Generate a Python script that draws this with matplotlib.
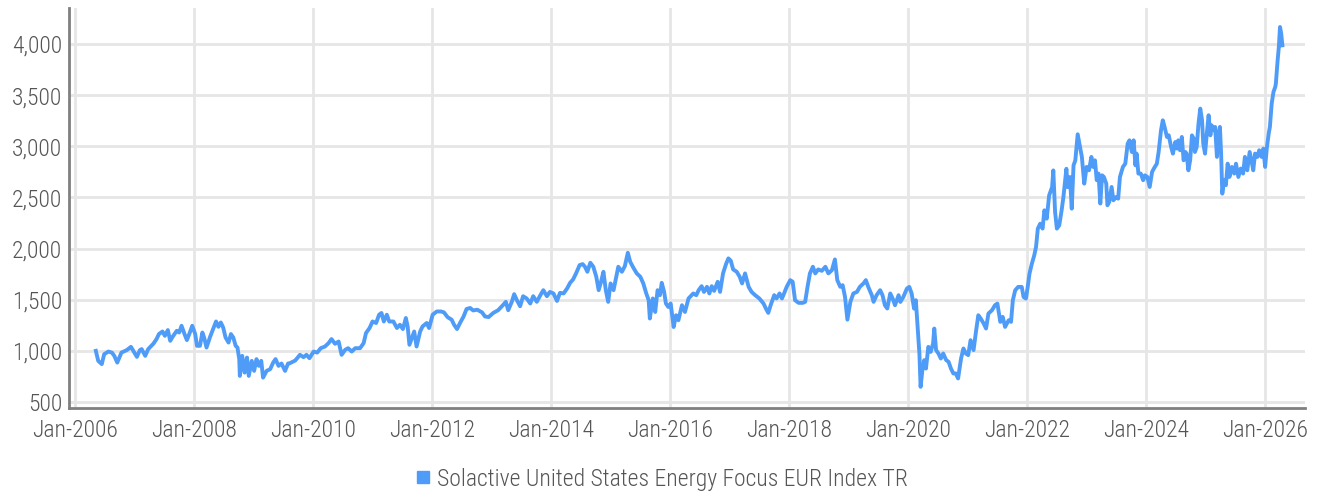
import matplotlib
matplotlib.use("Agg")
import matplotlib.pyplot as plt
from matplotlib.lines import Line2D
from matplotlib.ticker import FuncFormatter

plt.rcParams['font.family'] = ['Roboto Condensed', 'Roboto', 'DejaVu Sans']
plt.rcParams['font.weight'] = 'light'

series_name = "Solactive United States Energy Focus EUR Index TR"

years = [
    2006.35, 2006.39, 2006.45, 2006.49, 2006.56, 2006.62, 2006.66, 2006.71, 2006.78, 2006.87,
    2006.94, 2006.98, 2007.04, 2007.09, 2007.12, 2007.18, 2007.23, 2007.32, 2007.37, 2007.41,
    2007.47, 2007.51, 2007.56, 2007.60, 2007.64, 2007.71, 2007.75, 2007.79, 2007.84, 2007.88,
    2007.93, 2007.97, 2008.02, 2008.05, 2008.10, 2008.14, 2008.17, 2008.21, 2008.27, 2008.32,
    2008.37, 2008.41, 2008.45, 2008.49, 2008.53, 2008.58, 2008.62, 2008.66, 2008.70, 2008.73,
    2008.76, 2008.77, 2008.81, 2008.85, 2008.89, 2008.92, 2008.97, 2009.01, 2009.05, 2009.09,
    2009.13, 2009.16, 2009.22, 2009.28, 2009.33, 2009.37, 2009.42, 2009.47, 2009.53, 2009.58,
    2009.61, 2009.70, 2009.78, 2009.84, 2009.89, 2009.94, 2010.01, 2010.07, 2010.13, 2010.20,
    2010.26, 2010.31, 2010.37, 2010.43, 2010.48, 2010.54, 2010.59, 2010.65, 2010.71, 2010.79,
    2010.85, 2010.89, 2010.95, 2011.00, 2011.06, 2011.11, 2011.15, 2011.19, 2011.24, 2011.28,
    2011.35, 2011.41, 2011.46, 2011.51, 2011.56, 2011.59, 2011.62, 2011.66, 2011.70, 2011.74,
    2011.80, 2011.84, 2011.91, 2011.95, 2012.01, 2012.08, 2012.15, 2012.20, 2012.26, 2012.33,
    2012.37, 2012.42, 2012.47, 2012.53, 2012.58, 2012.64, 2012.69, 2012.76, 2012.84, 2012.89,
    2012.95, 2013.03, 2013.11, 2013.19, 2013.24, 2013.28, 2013.34, 2013.38, 2013.42, 2013.48,
    2013.53, 2013.59, 2013.65, 2013.70, 2013.76, 2013.82, 2013.87, 2013.93, 2013.98, 2014.04,
    2014.10, 2014.15, 2014.21, 2014.27, 2014.32, 2014.37, 2014.42, 2014.48, 2014.53, 2014.57,
    2014.61, 2014.66, 2014.71, 2014.76, 2014.80, 2014.84, 2014.88, 2014.92, 2014.96, 2015.00,
    2015.05, 2015.09, 2015.13, 2015.19, 2015.24, 2015.29, 2015.33, 2015.38, 2015.44, 2015.50,
    2015.55, 2015.60, 2015.64, 2015.66, 2015.71, 2015.75, 2015.79, 2015.83, 2015.86, 2015.90,
    2015.93, 2015.97, 2016.01, 2016.06, 2016.10, 2016.14, 2016.20, 2016.25, 2016.31, 2016.39,
    2016.44, 2016.48, 2016.53, 2016.57, 2016.62, 2016.66, 2016.70, 2016.74, 2016.80, 2016.84,
    2016.89, 2016.94, 2016.98, 2017.02, 2017.06, 2017.12, 2017.17, 2017.21, 2017.26, 2017.32,
    2017.37, 2017.43, 2017.50, 2017.57, 2017.61, 2017.65, 2017.69, 2017.75, 2017.79, 2017.84,
    2017.88, 2017.92, 2017.96, 2018.02, 2018.06, 2018.10, 2018.16, 2018.23, 2018.27, 2018.31,
    2018.35, 2018.40, 2018.44, 2018.49, 2018.55, 2018.61, 2018.66, 2018.72, 2018.77, 2018.81,
    2018.86, 2018.90, 2018.94, 2018.98, 2019.03, 2019.08, 2019.14, 2019.19, 2019.25, 2019.29,
    2019.33, 2019.39, 2019.42, 2019.47, 2019.53, 2019.57, 2019.61, 2019.65, 2019.70, 2019.74,
    2019.78, 2019.84, 2019.87, 2019.92, 2019.98, 2020.02, 2020.06, 2020.10, 2020.13, 2020.16,
    2020.19, 2020.21, 2020.24, 2020.27, 2020.30, 2020.34, 2020.38, 2020.42, 2020.44, 2020.47,
    2020.51, 2020.55, 2020.59, 2020.64, 2020.68, 2020.72, 2020.76, 2020.80, 2020.84, 2020.86,
    2020.89, 2020.93, 2020.97, 2021.01, 2021.05, 2021.10, 2021.14, 2021.18, 2021.22, 2021.27,
    2021.31, 2021.35, 2021.41, 2021.46, 2021.50, 2021.55, 2021.59, 2021.63, 2021.69, 2021.73,
    2021.76, 2021.80, 2021.85, 2021.91, 2021.94, 2021.98, 2022.01, 2022.04, 2022.08, 2022.12,
    2022.15, 2022.18, 2022.22, 2022.26, 2022.29, 2022.33, 2022.37, 2022.42, 2022.44, 2022.47,
    2022.50, 2022.54, 2022.58, 2022.61, 2022.66, 2022.68, 2022.72, 2022.75, 2022.78, 2022.81,
    2022.85, 2022.89, 2022.92, 2022.96, 2023.00, 2023.04, 2023.08, 2023.11, 2023.14, 2023.17,
    2023.20, 2023.23, 2023.26, 2023.29, 2023.33, 2023.35, 2023.38, 2023.42, 2023.45, 2023.50,
    2023.53, 2023.56, 2023.61, 2023.65, 2023.69, 2023.72, 2023.76, 2023.79, 2023.82, 2023.84,
    2023.87, 2023.91, 2023.95, 2023.98, 2024.02, 2024.06, 2024.10, 2024.13, 2024.18, 2024.21,
    2024.25, 2024.28, 2024.31, 2024.35, 2024.38, 2024.42, 2024.45, 2024.49, 2024.52, 2024.54,
    2024.57, 2024.60, 2024.63, 2024.66, 2024.68, 2024.71, 2024.74, 2024.77, 2024.80, 2024.82,
    2024.85, 2024.88, 2024.91, 2024.94, 2024.96, 2024.99, 2025.02, 2025.05, 2025.08, 2025.10,
    2025.13, 2025.16, 2025.19, 2025.22, 2025.24, 2025.26, 2025.28, 2025.31, 2025.34, 2025.37,
    2025.40, 2025.44, 2025.48, 2025.51, 2025.55, 2025.59, 2025.63, 2025.66, 2025.70, 2025.74,
    2025.78, 2025.80, 2025.83, 2025.87, 2025.90, 2025.94, 2025.97, 2026.00, 2026.03, 2026.06,
    2026.08, 2026.11, 2026.14, 2026.17, 2026.18, 2026.21, 2026.23, 2026.25, 2026.27, 2026.29,
]

values = [
    1000, 902, 870, 967, 993, 983, 951, 885, 983, 1007,
    1039, 1000, 941, 1007, 1017, 951, 1017, 1072, 1115, 1164,
    1189, 1147, 1203, 1098, 1137, 1196, 1179, 1245, 1164, 1105,
    1179, 1245, 1164, 1049, 1049, 1179, 1130, 1032, 1137, 1213,
    1287, 1235, 1277, 1228, 1130, 1081, 1164, 1130, 1049, 1032,
    919, 755, 951, 787, 934, 755, 902, 804, 919, 853,
    902, 738, 804, 821, 885, 919, 853, 876, 804, 876,
    879, 905, 961, 938, 961, 928, 993, 983, 1026, 1042,
    1075, 1115, 1069, 1091, 961, 1010, 1026, 993, 1026, 1026,
    1075, 1174, 1223, 1287, 1272, 1353, 1370, 1287, 1353, 1287,
    1287, 1223, 1255, 1213, 1321, 1238, 1059, 1125, 1189, 1042,
    1189, 1238, 1272, 1223, 1353, 1385, 1385, 1376, 1330, 1304,
    1255, 1213, 1272, 1336, 1409, 1419, 1395, 1402, 1376, 1336,
    1330, 1371, 1397, 1446, 1479, 1397, 1479, 1554, 1502, 1436,
    1534, 1512, 1463, 1534, 1479, 1544, 1593, 1534, 1576, 1561,
    1488, 1567, 1561, 1610, 1665, 1698, 1757, 1838, 1848, 1822,
    1773, 1861, 1822, 1724, 1593, 1675, 1773, 1593, 1479, 1659,
    1593, 1708, 1822, 1773, 1828, 1959, 1871, 1816, 1757, 1724,
    1659, 1561, 1495, 1316, 1512, 1380, 1593, 1544, 1665, 1576,
    1463, 1429, 1463, 1233, 1348, 1299, 1446, 1380, 1512, 1561,
    1544, 1593, 1632, 1576, 1626, 1561, 1632, 1586, 1675, 1576,
    1757, 1848, 1904, 1881, 1796, 1773, 1724, 1659, 1757, 1626,
    1576, 1544, 1512, 1463, 1414, 1371, 1446, 1544, 1512, 1561,
    1512, 1567, 1626, 1691, 1675, 1495, 1469, 1469, 1479, 1626,
    1757, 1822, 1757, 1796, 1782, 1822, 1757, 1789, 1894, 1691,
    1626, 1642, 1527, 1305, 1479, 1561, 1576, 1626, 1659, 1691,
    1626, 1544, 1479, 1544, 1593, 1544, 1446, 1414, 1561, 1512,
    1446, 1544, 1478, 1527, 1609, 1625, 1560, 1413, 1495, 1234,
    974, 648, 811, 909, 827, 1039, 990, 1072, 1218, 1007,
    974, 925, 974, 909, 893, 827, 779, 779, 730, 811,
    925, 1023, 974, 958, 1104, 1007, 1186, 1348, 1316, 1267,
    1218, 1365, 1397, 1446, 1462, 1283, 1332, 1234, 1299, 1283,
    1495, 1592, 1625, 1625, 1527, 1511, 1625, 1755, 1853, 1934,
    2016, 2195, 2243, 2195, 2374, 2292, 2520, 2601, 2764, 2357,
    2195, 2227, 2374, 2504, 2780, 2601, 2699, 2390, 2813, 2862,
    3117, 2993, 2896, 2635, 2798, 2765, 2896, 2798, 2863, 2668,
    2733, 2440, 2716, 2700, 2635, 2423, 2456, 2602, 2472, 2505,
    2488, 2700, 2798, 2830, 3026, 3058, 2944, 3058, 2814, 2928,
    2733, 2733, 2668, 2716, 2700, 2602, 2749, 2782, 2830, 2944,
    3156, 3254, 3189, 3091, 3107, 2993, 2928, 3042, 2977, 3058,
    2961, 3091, 2863, 2944, 2928, 2765, 2863, 3107, 3075, 2944,
    2993, 3221, 3368, 3254, 3026, 2928, 3124, 3303, 3107, 3205,
    3156, 3189, 2896, 3124, 3189, 2928, 2537, 2668, 2619, 2830,
    2700, 2798, 2733, 2830, 2700, 2782, 2733, 2896, 2765, 2944,
    2830, 2765, 2928, 2896, 2961, 2896, 2977, 2798, 2993, 3124,
    3189, 3417, 3531, 3580, 3612, 3840, 3970, 4166, 4101, 3987,
]

tick_years = [2006, 2008, 2010, 2012, 2014, 2016, 2018, 2020, 2022, 2024, 2026]
tick_labels = ["Jan-%d" % y for y in tick_years]
y_ticks = [500, 1000, 1500, 2000, 2500, 3000, 3500, 4000]

line_color = "#4f9cf8"
text_color = "#555555"

fig = plt.figure(figsize=(13.23, 4.93), dpi=100)
ax = fig.add_axes([0.0522, 0.1724, 0.9342, 0.8114])

ax.plot(years, values, color=line_color, linewidth=2.8, solid_joinstyle="round", zorder=3)

ax.set_xlim(2005.90, 2026.67)
ax.set_ylim(441, 4352)
ax.set_xticks(tick_years)
ax.set_xticklabels(tick_labels)
ax.set_yticks(y_ticks)
ax.yaxis.set_major_formatter(FuncFormatter(lambda v, p: f"{int(v):,}"))

ax.grid(True, color="#e6e6e6", linewidth=2, zorder=0)
ax.set_axisbelow(True)
for s in ["top", "right"]:
    ax.spines[s].set_visible(False)
for s in ["left", "bottom"]:
    ax.spines[s].set_color("#808080")
    ax.spines[s].set_linewidth(2)
ax.tick_params(axis="both", length=0, labelsize=17, labelcolor=text_color)
ax.tick_params(axis="x", pad=8)
ax.tick_params(axis="y", pad=5)

handle = Line2D([], [], linestyle="none", marker="s", markersize=8,
                markerfacecolor=line_color, markeredgecolor=line_color)
fig.legend([handle], [series_name], loc="center", bbox_to_anchor=(0.5, 0.028),
           frameon=False, fontsize=17, labelcolor=text_color,
           handlelength=0.6, handletextpad=0.3, borderaxespad=0)

fig.savefig("out.png", dpi=100)
